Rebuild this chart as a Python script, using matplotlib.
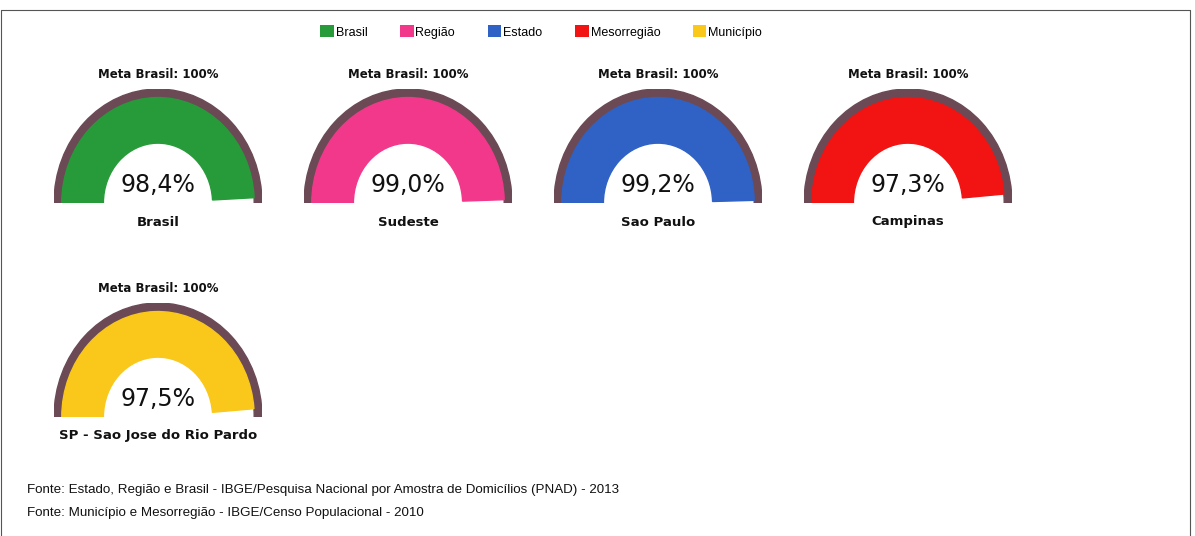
import matplotlib.pyplot as plt
from matplotlib.patches import Wedge, Patch

# data
regions = ["Brasil", "Sudeste", "Sao Paulo", "Campinas", "SP - Sao Jose do Rio Pardo"]
values = [98.4, 99.0, 99.2, 97.3, 97.5]
value_labels = ["98,4%", "99,0%", "99,2%", "97,3%", "97,5%"]
goal = 100
goal_label = "Meta Brasil: 100%"
colors = ["#279b3a", "#f2388a", "#2f62c4", "#f21313", "#f9c81a"]
legend_labels = ["Brasil", "Região", "Estado", "Mesorregião", "Município"]
footnotes = [
    "Fonte: Estado, Região e Brasil - IBGE/Pesquisa Nacional por Amostra de Domicílios (PNAD) - 2013",
    "Fonte: Município e Mesorregião - IBGE/Censo Populacional - 2010",
]

RING = "#6b4a55"
W, H = 1195, 536

fig = plt.figure(figsize=(W / 100, H / 100), dpi=100)
fig.patch.set_facecolor("white")

# frame
frame = fig.add_axes([0, 0, 1, 1])
frame.set_xlim(0, W)
frame.set_ylim(H, 0)
frame.axis("off")
frame.plot([1, 1, 1190, 1190], [536, 10, 10, 536], color="#555555", lw=0.8)

# gauge positions in pixels: center x, base y
centers = [(158, 203), (408, 203), (658, 203), (908, 203), (158, 417)]
rx, ry = 104, 114


def draw_gauge(cx, by, value, color, value_label, name):
    ax = fig.add_axes([(cx - rx) / W, (H - by) / H, 2 * rx / W, ry / H])
    ax.set_xlim(-1, 1)
    ax.set_ylim(0, 1)
    ax.axis("off")
    ax.add_patch(Wedge((0, 0), 1.0, 0, 180, width=0.075, color=RING))
    start = 180 * (1 - value / goal)
    ax.add_patch(Wedge((0, 0), 0.925, start, 180, width=0.40, color=color))
    frame.text(cx, by - ry - 14, goal_label, ha="center", va="center",
               fontsize=8.5, fontweight="bold", color="#111111")
    frame.text(cx, by - 18, value_label, ha="center", va="center",
               fontsize=17, color="#111111")
    frame.text(cx, by + 19, name, ha="center", va="center",
               fontsize=9.5, fontweight="bold", color="#111111")


for (cx, by), v, c, vl, n in zip(centers, values, colors, value_labels, regions):
    draw_gauge(cx, by, v, c, vl, n)

handles = [Patch(facecolor=c, edgecolor="none") for c in colors]
fig.legend(handles, legend_labels, loc="center", bbox_to_anchor=(541 / W, 1 - 32 / H),
           ncol=5, frameon=False, handlelength=1.1, handleheight=1.1,
           handletextpad=0.15, columnspacing=2.6,
           prop={"family": "Liberation Sans", "size": 9})

for i, t in enumerate(footnotes):
    frame.text(27, 490 + i * 23, t, ha="left", va="center", fontsize=9.6,
               family="Liberation Sans", color="#111111")

fig.savefig("out.png", dpi=100)
